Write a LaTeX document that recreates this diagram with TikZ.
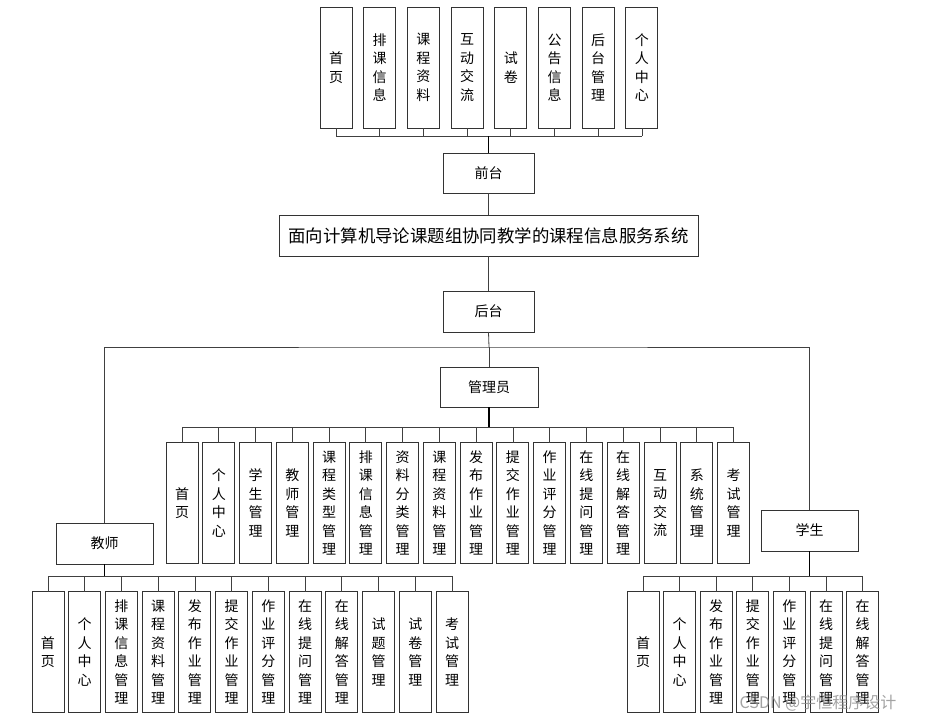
\documentclass[tikz,border=0pt]{standalone}
\usepackage{fontspec}
\setmainfont{Noto Sans CJK SC}
\usetikzlibrary{positioning}

\begin{document}
\begin{tikzpicture}[
    x=1pt, y=-1pt,
    col/.style={rectangle, draw=black!80, line width=0.9pt, outer sep=0pt, minimum width=32pt, minimum height=121pt, inner sep=0pt, align=center, font=\fontsize{14}{18.5}\selectfont},
    role/.style={rectangle, draw=black!80, line width=0.9pt, outer sep=0pt, minimum width=97pt, minimum height=41pt, inner sep=0pt, font=\fontsize{14}{16}\selectfont},
    link/.style={draw=black!75, line width=0.8pt},
    stem/.style={draw=black, line width=1.6pt}
]
    \useasboundingbox (0,0) rectangle (930,723);

    % front end
    \node[col] (f1) at (336,67.5) {首\\页};
    \node[col, right=11.7pt of f1] (f2) {排\\课\\信\\息};
    \node[col, right=11.7pt of f2] (f3) {课\\程\\资\\料};
    \node[col, right=11.7pt of f3] (f4) {互\\动\\交\\流};
    \node[col, right=11.7pt of f4] (f5) {试\\卷};
    \node[col, right=11.7pt of f5] (f6) {公\\告\\信\\息};
    \node[col, right=11.7pt of f6] (f7) {后\\台\\管\\理};
    \node[col, right=11.7pt of f7] (f8) {个\\人\\中\\心};
    \node[role, minimum width=91pt, minimum height=40pt] (qt) at (488.5,173) {前台};

    % system
    \node[role, minimum width=419pt, font=\fontsize{17.4}{20}\selectfont] (sys) at (488.5,235.5) {面向计算机导论课题组协同教学的课程信息服务系统};
    \node[role, minimum width=91pt] (ht) at (488.5,311.5) {后台};

    % roles
    \node[role, minimum width=98pt, minimum height=40pt] (gly) at (489,387) {管理员};
    \node[role] (js) at (104.5,543.5) {教师};
    \node[role] (xs) at (809.5,530.5) {学生};

    % admin
    \node[col] (a1) at (182,503) {首\\页};
    \node[col, right=4.77pt of a1] (a2) {个\\人\\中\\心};
    \node[col, right=4.77pt of a2] (a3) {学\\生\\管\\理};
    \node[col, right=4.77pt of a3] (a4) {教\\师\\管\\理};
    \node[col, right=4.77pt of a4] (a5) {课\\程\\类\\型\\管\\理};
    \node[col, right=4.77pt of a5] (a6) {排\\课\\信\\息\\管\\理};
    \node[col, right=4.77pt of a6] (a7) {资\\料\\分\\类\\管\\理};
    \node[col, right=4.77pt of a7] (a8) {课\\程\\资\\料\\管\\理};
    \node[col, right=4.77pt of a8] (a9) {发\\布\\作\\业\\管\\理};
    \node[col, right=4.77pt of a9] (a10) {提\\交\\作\\业\\管\\理};
    \node[col, right=4.77pt of a10] (a11) {作\\业\\评\\分\\管\\理};
    \node[col, right=4.77pt of a11] (a12) {在\\线\\提\\问\\管\\理};
    \node[col, right=4.77pt of a12] (a13) {在\\线\\解\\答\\管\\理};
    \node[col, right=4.77pt of a13] (a14) {互\\动\\交\\流};
    \node[col, right=4.77pt of a14] (a15) {系\\统\\管\\理};
    \node[col, right=4.77pt of a15] (a16) {考\\试\\管\\理};

    % teacher
    \node[col] (t1) at (48,652) {首\\页};
    \node[col, right=4.73pt of t1] (t2) {个\\人\\中\\心};
    \node[col, right=4.73pt of t2] (t3) {排\\课\\信\\息\\管\\理};
    \node[col, right=4.73pt of t3] (t4) {课\\程\\资\\料\\管\\理};
    \node[col, right=4.73pt of t4] (t5) {发\\布\\作\\业\\管\\理};
    \node[col, right=4.73pt of t5] (t6) {提\\交\\作\\业\\管\\理};
    \node[col, right=4.73pt of t6] (t7) {作\\业\\评\\分\\管\\理};
    \node[col, right=4.73pt of t7] (t8) {在\\线\\提\\问\\管\\理};
    \node[col, right=4.73pt of t8] (t9) {在\\线\\解\\答\\管\\理};
    \node[col, right=4.73pt of t9] (t10) {试\\题\\管\\理};
    \node[col, right=4.73pt of t10] (t11) {试\\卷\\管\\理};
    \node[col, right=4.73pt of t11] (t12) {考\\试\\管\\理};

    % student
    \node[col] (s1) at (643,652) {首\\页};
    \node[col, right=4.6pt of s1] (s2) {个\\人\\中\\心};
    \node[col, right=4.6pt of s2] (s3) {发\\布\\作\\业\\管\\理};
    \node[col, right=4.6pt of s3] (s4) {提\\交\\作\\业\\管\\理};
    \node[col, right=4.6pt of s4] (s5) {作\\业\\评\\分\\管\\理};
    \node[col, right=4.6pt of s5] (s6) {在\\线\\提\\问\\管\\理};
    \node[col, right=4.6pt of s6] (s7) {在\\线\\解\\答\\管\\理};

    % links
    \coordinate (fbus) at (489,136);
    \foreach \i in {1,...,8} \draw[link] (f\i.south) -- (f\i.south |- fbus);
    \draw[link] (f1.south |- fbus) -- (f8.south |- fbus);
    \draw[stem] (qt.north) -- (qt.north |- fbus);
    \draw[link] (qt.south) -- (sys.north);
    \draw[link] (sys.south) -- (ht.north);

    \coordinate (rbus) at (489,347);
    \draw[link] (ht.south) -- (rbus);
    \draw[link] (js.north) |- (rbus) -| (xs.north);
    \draw[link] (rbus) -- (gly.north);

    \coordinate (abus) at (489,427);
    \foreach \i in {1,...,16} \draw[link] (a\i.north) -- (a\i.north |- abus);
    \draw[link] (a1.north |- abus) -- (a16.north |- abus);
    \draw[stem] (gly.south) -- (abus);

    \coordinate (tbus) at (104.5,576);
    \foreach \i in {1,...,12} \draw[link] (t\i.north) -- (t\i.north |- tbus);
    \draw[link] (t1.north |- tbus) -- (t12.north |- tbus);
    \draw[stem] (js.south) -- (tbus);

    \coordinate (sbus) at (809.5,576);
    \foreach \i in {1,...,7} \draw[link] (s\i.north) -- (s\i.north |- sbus);
    \draw[link] (s1.north |- sbus) -- (s7.north |- sbus);
    \draw[stem] (xs.south) -- (sbus);

    % watermark
    \node[font=\fontsize{16}{16}\selectfont, text=black!45, opacity=0.8] (wm) at (818,703) {CSDN @宇恒程序设计};
\end{tikzpicture}
\end{document}
